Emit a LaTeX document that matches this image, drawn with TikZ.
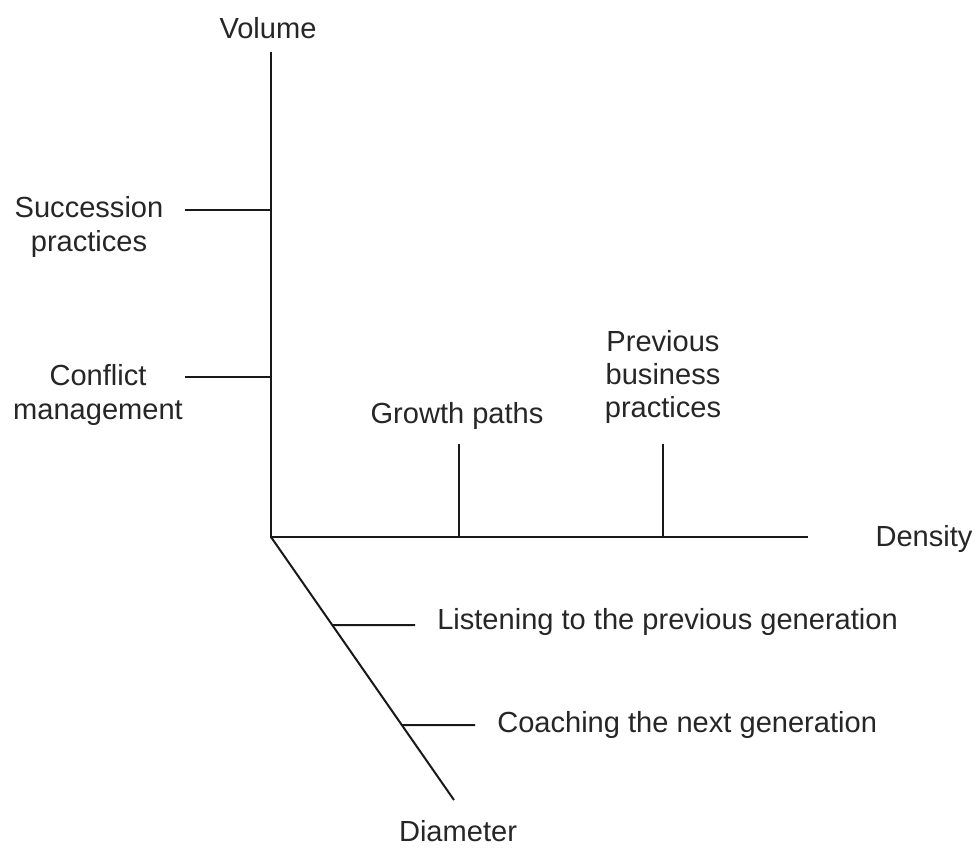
\documentclass[tikz,border=0pt]{standalone}
\usepackage{fontspec}
\setmainfont{Liberation Sans}
\usetikzlibrary{calc}
\begin{document}
\begin{tikzpicture}[x=0.75pt,y=-0.75pt,
  axis/.style={line width=1.5pt,black!90},
  lbl/.style={inner sep=0pt,align=center,font=\fontsize{21.8}{24.8}\selectfont,text=black!85}]
\useasboundingbox (0,0) rectangle (979,857);
\fill[white] (0,0) rectangle (979,857);
% axes
\coordinate (O) at (271,537);
\coordinate (Vtop) at (271,52);
\coordinate (Dend) at (808,537);
\coordinate (Mend) at (454,800);
\draw[axis] (Vtop) -- (O) -- (Dend);
\draw[axis] (O) -- (Mend);
% axis labels
\node[lbl] (vol) at (268,28) {Volume};
\node[lbl] (den) at (924,539) {Density};
\node[lbl] (dia) at (458,831) {Diameter};
% branches on the vertical axis
\node[lbl] (succ) at (89,227) {Succession\\practices};
\node[lbl] (conf) at (98,395) {Conflict\\management};
\coordinate (s1) at (185,210);
\coordinate (s2) at (271,210);
\coordinate (c1) at (185,377);
\coordinate (c2) at (271,377);
\draw[axis] (s1) -- (s2);
\draw[axis] (c1) -- (c2);
% branches on the horizontal axis
\node[lbl] (grow) at (457,416) {Growth paths};
\node[lbl] (prev) at (663,377) {Previous\\business\\practices};
\coordinate (g1) at (459,444);
\coordinate (g2) at (459,537);
\coordinate (p1) at (663,444);
\coordinate (p2) at (663,537);
\draw[axis] (g1) -- (g2);
\draw[axis] (p1) -- (p2);
% branches on the diagonal axis
\coordinate (l1) at ($(O)!{(625-537)/263}!(Mend)$);
\coordinate (l2) at (415,625);
\coordinate (k1) at ($(O)!{(725-537)/263}!(Mend)$);
\coordinate (k2) at (475,725);
\draw[axis] (l1) -- (l2);
\draw[axis] (k1) -- (k2);
\node[lbl,anchor=west] (lis) at (437,622) {Listening to the previous generation};
\node[lbl,anchor=west] (coa) at (497,725) {Coaching the next generation};
\end{tikzpicture}
\end{document}
